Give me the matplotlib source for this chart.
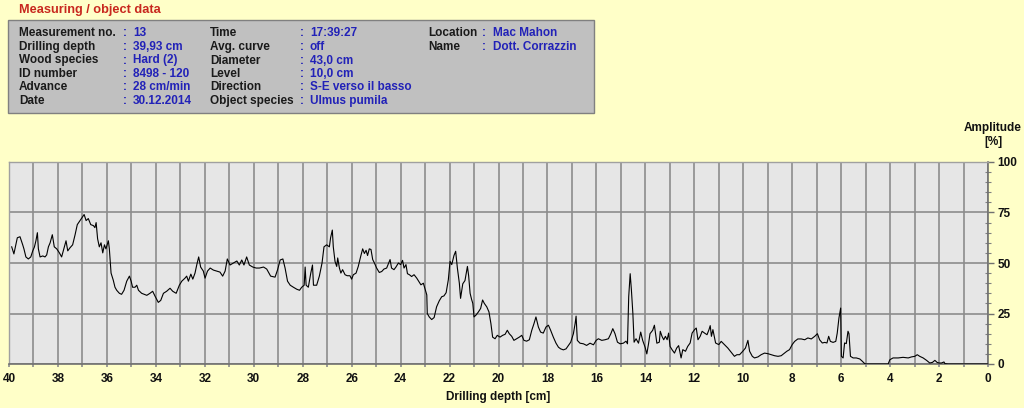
import matplotlib
matplotlib.use("Agg")
import matplotlib.pyplot as plt
from matplotlib.patches import Rectangle
from matplotlib.ticker import MultipleLocator

plt.rcParams['font.family'] = ['Liberation Sans', 'DejaVu Sans']

# ---- data ----
depth_a = [39.89,39.80,39.66,39.55,39.44,39.39,39.31,39.21,39.11,39.03,
           38.96,38.90,38.84,38.80,38.73,38.62,38.53,38.46,38.39,38.32,
           38.23,38.15,38.05,37.94,37.85,37.75,37.67,37.60,37.51,37.40,
           37.30,37.21,37.10,36.99,36.93,36.85,36.76,36.66,36.55,36.49,
           36.44,36.38,36.31,36.24,36.17,36.10,36.04,35.94,35.90,35.83,
           35.74,35.67,35.60,35.49,35.40,35.30,35.19,35.08,35.01,34.95,
           34.85,34.78,34.71,34.58,34.37,34.24,34.13,34.03,33.90,33.80,
           33.69,33.56,33.42,33.31,33.17,33.04,32.94,32.81,32.74,32.67,
           32.57,32.49,32.40,32.33,32.25,32.17,32.06,31.99,31.89,31.78,
           31.65,31.51,31.38,31.27,31.17,31.08,30.97,30.83,30.69,30.59,
           30.49,30.40,30.29,30.18,30.04,29.90,29.77,29.60,29.47,29.31,
           29.13,29.03,28.92,28.81,28.72,28.62,28.51,28.38,28.24,28.13,
           28.04,27.94,27.90,27.86,27.77,27.67,27.60,27.56,27.43,27.32,
           27.21,27.13,27.02]
amp_a = [58,54.5,62.5,63,59,57,53,52,53,56,
         58,61,65,57,53,53.5,53,54,58,60,
         64,58,57,55,53,57.5,61,56,57.5,59,
         64,69,71,73,74,71,72,69,68.5,67.5,
         70,62,58,60,55,59,57,61,57,45,
         41.5,38,36.5,35,34.5,36.5,41,43.5,41,38,
         38,39,36.5,35,34,35,36,33.5,30.5,31.5,
         35,36,37.5,36,35,39,41,42.5,43.5,41,
         44.5,42,45,49,53,48,46,42.5,46,47.5,
         46.5,46,45.5,43.5,46,52,49,50,51,49,
         51.5,49,53,49,48,47.5,47.5,48,47,43.5,
         43,46.5,51.5,52,47.5,41,39,38,37,36.5,
         38,39,48,39,38,45,49,39,39,43.5,
         50,58,59]

depth_b = [26.99,26.91,26.86,26.79,26.75,26.68,26.61,26.57,26.50,26.44,
           26.37,26.27,26.18,26.07,26.00,25.93,25.82,25.73,25.63,25.55,
           25.48,25.41,25.35,25.28,25.21,25.14,25.07,24.98,24.87,24.77,
           24.68,24.57,24.43,24.37,24.27,24.19,24.09,24.00,23.92,23.86,
           23.78,23.72,23.64,23.55,23.45,23.34,23.25,23.17,23.07,22.99,
           22.93,22.91,22.83,22.73,22.63,22.53,22.42,22.32,22.23,22.14,
           22.05,21.98,21.91,21.82,21.75,21.68,21.60,21.55,21.46,21.37,
           21.27,21.22,21.16,21.10,21.05,21.00,20.92,20.82,20.73,20.65,
           20.58,20.48,20.39,20.31,20.24,20.14,20.05,19.94,19.83,19.73,
           19.64,19.56,19.46,19.37,19.26,19.15,19.05,18.96,18.85,18.74,
           18.64,18.55,18.47,18.37,18.28,18.17,18.06,17.96,17.87,17.76,
           17.65,17.55,17.46,17.35,17.24,17.14,17.05,16.94,16.87,16.83,
           16.78,16.67,16.53,16.40,16.26,16.12,16.01,15.92,15.78,15.65,
           15.51,15.41,15.33,15.24,15.14,15.03,14.90,14.79,14.73,14.68,
           14.62,14.57,14.51,14.46,14.38,14.28,14.19,14.11,14.01,13.94,
           13.87,13.81,13.70,13.63,13.53,13.43]
amp_b = [58.7,58,62.5,66.3,58,50.8,48.3,52.5,47.5,45,
         46.7,44.2,43.7,43.7,42,44.2,45,48.3,53.3,57,
         54.7,56.3,53.7,57,56.7,51.7,50,47.5,45.3,45.8,
         47,47.5,51.7,47.5,46.7,48,50,49.2,51.3,47.5,
         49.2,44.7,44.2,43.3,44.2,42.5,40.8,39.2,40,36.7,
         34.2,25,23.3,22,23,28.3,31.3,33.3,33.7,35.3,
         41.7,50.8,49.2,53.7,55.8,47.5,40,32.5,39.7,41.3,
         48.3,43.7,35,32,30,23.3,24.2,25.8,27.5,31.7,
         30,28.3,25.8,20,13.3,12.5,14.2,13.3,14.2,14.7,
         16.7,15,13.7,11.7,12.5,13.3,14.2,11.7,11.3,12,
         16.7,20,23.3,18.3,15.8,15.3,18.3,19.2,16.7,13.3,
         10.3,8.3,7.5,7,7.5,9.2,10.8,15,20,23.7,
         11.7,10.3,10,9.2,10.3,9.5,11.7,12.5,11.7,12,
         12.5,15,17.5,15,10.8,10,10.3,11.3,10,33.3,
         44.7,36.7,25,10.8,12.5,10.3,15.8,11.7,8.3,5,
         10,15,16.7,19.2,10.3,10.8]

depth_c = [13.39,13.32,13.25,13.18,13.11,13.05,12.99,12.91,12.81,12.72,
           12.64,12.54,12.47,12.36,12.27,12.17,12.09,11.99,11.92,11.85,
           11.76,11.68,11.58,11.48,11.40,11.35,11.30,11.24,11.13,11.00,
           10.90,10.77,10.63,10.49,10.36,10.26,10.15,10.02,9.91,9.81,
           9.74,9.63,9.54,9.40,9.27,9.13,8.99,8.86,8.72,8.58,
           8.45,8.31,8.22,8.11,8.00,7.90,7.77,7.63,7.49,7.36,
           7.22,7.08,6.97,6.88,6.77,6.67,6.58,6.51,6.44,6.33,
           6.22,6.16,6.09,6.02,5.99,5.92,5.86,5.79,5.72,5.68,
           5.62,5.51,5.38,5.24,5.13,5.04,4.97,4.08,4.01,3.88,
           3.67,3.47,3.26,3.13,2.99,2.89,2.79,2.65,2.51,2.38,
           2.27,2.17,2.08,2.00,1.90,1.80,1.76,1.63,0.00]
amp_c = [16.2,13.7,12,13.7,12,15.3,8.7,7.1,5.4,7.9,
         9.1,3,7.1,6.3,8.7,10.4,15.3,17,17.8,12,
         13.7,16.2,15.3,14.5,17,19,13.7,17,10.4,9.6,
         11.2,9.6,7.9,5.8,3.8,4.6,4.6,6.3,7.9,11.7,
         6.3,3.8,3,3.5,4.6,5.4,5.1,4.6,4.1,3.8,
         4.1,5.4,6.3,7.1,9.6,11.2,12.4,12.4,12,12.9,
         12.4,13.7,15,12,10.4,10.7,10.4,13.7,11.2,10.7,
         11.2,15.3,22.8,27.7,3.8,3,10.4,10.1,16.2,15,
         3.8,3,3,2.5,1.3,0.2,0,0,2.1,3,
         3,3.3,3,3.5,3.8,4.6,3.8,3,1.8,0.5,
         0.8,1.8,0.8,0.5,0.5,1,0.2,0,0]

depth = depth_a + depth_b + depth_c
amplitude = amp_a + amp_b + amp_c

x_ticks = list(range(0, 41, 2))
y_ticks = [0, 25, 50, 75, 100]

info_col1 = [("Measurement no.", "13"), ("Drilling depth", "39,93 cm"),
             ("Wood species", "Hard (2)"), ("ID number", "8498 - 120"),
             ("Advance", "28 cm/min"), ("Date", "30.12.2014")]
info_col2 = [("Time", "17:39:27"), ("Avg. curve", "off"),
             ("Diameter", "43,0 cm"), ("Level", "10,0 cm"),
             ("Direction", "S-E verso il basso"), ("Object species", "Ulmus pumila")]
info_col3 = [("Location", "Mac Mahon"), ("Name", "Dott. Corrazzin")]

# ---- figure ----
W, H = 1024, 408
BG = '#FFFFC8'
fig = plt.figure(figsize=(W / 100, H / 100), dpi=100, facecolor=BG)

def fx(px):
    return px / W

def fy(py):
    return 1 - py / H

# info box
fig.patches.append(Rectangle((fx(8), fy(113)), fx(594) - fx(8), fy(20) - fy(113),
                             transform=fig.transFigure, facecolor='#C0C0C0',
                             edgecolor='#808080', linewidth=1.0, zorder=0))
fig.text(fx(19), fy(10), "Measuring / object data", color='#C8281E',
         fontsize=9.2, fontweight='bold', va='center', ha='left')

LBL = '#1A1A1A'
VAL = '#2222B8'
row_y = [33.5, 47, 60.5, 74, 87.5, 101]
cols = [(info_col1, 19, 123, 133), (info_col2, 210, 300, 310), (info_col3, 428, 482, 493)]
for items, xl, xc, xv in cols:
    for (lab, val), y in zip(items, row_y):
        fig.text(fx(xl), fy(y), lab, color=LBL, fontsize=8.5, fontweight='bold', va='center')
        fig.text(fx(xc), fy(y), ":", color=VAL, fontsize=8.5, fontweight='bold', va='center')
        fig.text(fx(xv), fy(y), val, color=VAL, fontsize=8.5, fontweight='bold', va='center')

# chart axes
ax = fig.add_axes([fx(9), fy(364), fx(988) - fx(9), fy(162) - fy(364)])
ax.set_facecolor('#E6E6E6')
ax.plot(depth, amplitude, color='black', linewidth=0.8, zorder=3)

ax.set_xlim(40, 0)
ax.set_ylim(0, 100)
ax.set_xticks(x_ticks)
ax.xaxis.set_minor_locator(MultipleLocator(1))
ax.set_yticks(y_ticks)
ax.yaxis.set_minor_locator(MultipleLocator(5))
ax.yaxis.tick_right()

ax.grid(which='both', axis='x', color='#8C8C8C', linewidth=1.2, zorder=1)
ax.grid(which='major', axis='y', color='#8C8C8C', linewidth=1.2, zorder=1)
ax.set_axisbelow(True)

ax.tick_params(axis='x', which='both', direction='out', length=2.5, width=1.2,
               color='#8C8C8C', pad=4)
ax.tick_params(axis='x', which='major', labelsize=8.5, labelcolor='#111111')
ax.tick_params(axis='y', which='major', direction='out', length=4, width=1,
               color='#707070', pad=3, labelsize=8.5, labelcolor='#111111')
ax.tick_params(axis='y', which='minor', direction='inout', length=4, width=0.8,
               color='#808080')
for lab in ax.get_xticklabels() + ax.get_yticklabels():
    lab.set_fontweight('bold')

for side in ['top', 'left']:
    ax.spines[side].set_color('#A0A0A0')
    ax.spines[side].set_linewidth(1.0)
for side in ['bottom', 'right']:
    ax.spines[side].set_color('#707070')
    ax.spines[side].set_linewidth(1.2)

fig.text(fx(498), fy(397), "Drilling depth [cm]", color='#111111', fontsize=8.5,
         fontweight='bold', ha='center', va='center')
fig.text(fx(993), fy(128), "Amplitude", color='#111111', fontsize=8.5,
         fontweight='bold', ha='center', va='center')
fig.text(fx(993), fy(142), "[%]", color='#111111', fontsize=8.5,
         fontweight='bold', ha='center', va='center')

fig.savefig("out.png", dpi=100, facecolor=BG)
